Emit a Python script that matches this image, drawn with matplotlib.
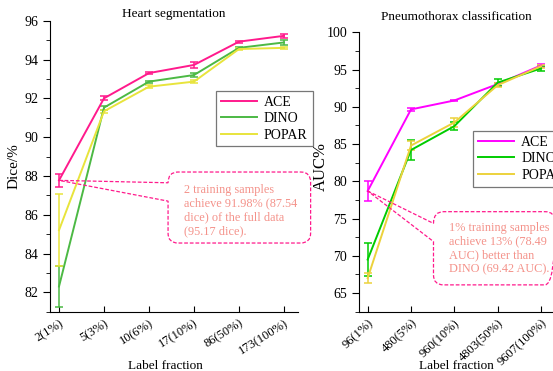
import numpy as np
import matplotlib.pyplot as plt
from matplotlib.path import Path
from matplotlib.patches import PathPatch
from matplotlib.lines import Line2D
from matplotlib.ticker import MultipleLocator

plt.rcParams['font.family'] = ['Liberation Serif', 'DejaVu Serif']

# Heart segmentation (Dice %)
heart_labels = ['2(1%)', '5(3%)', '10(6%)', '17(10%)', '86(50%)', '173(100%)']
heart_ace = [87.77, 92.0, 93.3, 93.72, 94.92, 95.22]
heart_ace_err = [0.34, 0.1, 0.07, 0.15, 0.05, 0.12]
heart_dino = [82.3, 91.52, 92.86, 93.2, 94.6, 94.88]
heart_dino_err = [1.05, 0.1, 0.05, 0.08, 0.05, 0.12]
heart_popar = [85.2, 91.33, 92.6, 92.86, 94.54, 94.6]
heart_popar_err = [1.85, 0.08, 0.08, 0.08, 0.05, 0.07]

# Pneumothorax classification (AUC %)
pneumo_labels = ['96(1%)', '480(5%)', '960(10%)', '4803(50%)', '9607(100%)']
pneumo_ace = [78.7, 89.65, 90.85, 93.05, 95.55]
pneumo_ace_err = [1.4, 0.2, 0.1, 0.2, 0.2]
pneumo_dino = [69.5, 84.2, 87.4, 93.25, 95.15]
pneumo_dino_err = [2.2, 1.3, 0.5, 0.5, 0.3]
pneumo_popar = [67.0, 84.8, 87.9, 92.9, 95.45]
pneumo_popar_err = [0.7, 0.6, 0.6, 0.3, 0.2]

methods = ['ACE', 'DINO', 'POPAR']
left_colors = ['#ff1a8c', '#4cb944', '#e8e43c']
right_colors = ['#ff00ff', '#00cc00', '#ecd23c']
callout_color = '#ff1a8c'
text_color = '#f4928a'

fig = plt.figure(figsize=(5.53, 3.71), dpi=100)
W, H = 553, 371
ax1 = fig.add_axes([50 / W, (H - 311.7) / H, 247.5 / W, 291 / H])
ax2 = fig.add_axes([359 / W, (H - 311.7) / H, 195 / W, 279.4 / H])


def draw_panel(ax, labels, series, errs, colors, rot):
    x = np.arange(len(labels))
    for name, y, e, c in zip(methods, series, errs, colors):
        ax.errorbar(x, y, yerr=e, color=c, lw=1.4, elinewidth=1.1,
                    capsize=3, capthick=1.1)
    ax.set_xticks(x)
    ax.set_xticklabels(labels, rotation=rot, ha='right', rotation_mode='anchor')
    ax.spines['top'].set_visible(False)
    ax.spines['right'].set_visible(False)
    ax.tick_params(axis='x', direction='in', length=4, labelsize=9, pad=4)
    ax.tick_params(axis='y', which='major', direction='out', length=5, labelsize=10)
    ax.tick_params(axis='y', which='minor', direction='out', length=3)
    ax.set_xlabel('Label fraction', fontsize=9.5)
    handles = [Line2D([], [], color=c, lw=1.4) for c in colors]
    return handles


h1 = draw_panel(ax1, heart_labels, [heart_ace, heart_dino, heart_popar],
                [heart_ace_err, heart_dino_err, heart_popar_err], left_colors, 32)
ax1.set_xlim(-0.2, 5.3)
ax1.set_ylim(81, 96)
ax1.yaxis.set_major_locator(MultipleLocator(2))
ax1.yaxis.set_minor_locator(MultipleLocator(1))
ax1.set_title('Heart segmentation', fontsize=9.5, pad=3)
ax1.set_ylabel('Dice/%', fontsize=11)
ax1.yaxis.set_label_coords(-0.121, 0.5)
ax1.xaxis.set_label_coords(0.465, -0.165)

h2 = draw_panel(ax2, pneumo_labels, [pneumo_ace, pneumo_dino, pneumo_popar],
                [pneumo_ace_err, pneumo_dino_err, pneumo_popar_err], right_colors, 43)
ax2.set_xlim(-0.2, 4.3)
ax2.set_ylim(62.5, 100)
ax2.yaxis.set_major_locator(MultipleLocator(5))
ax2.yaxis.set_minor_locator(MultipleLocator(2.5))
ax2.set_title('Pneumothorax classification', fontsize=9.5, pad=9)
ax2.set_ylabel('AUC%', fontsize=12)
ax2.yaxis.set_label_coords(-0.154, 0.52)
ax2.xaxis.set_label_coords(0.5, -0.172)

for ax, hs, anchor in [(ax1, h1, (0.671, 0.759)), (ax2, h2, (0.586, 0.647))]:
    leg = ax.legend(hs, methods, loc='upper left', bbox_to_anchor=anchor,
                    borderaxespad=0, fontsize=10, fancybox=False,
                    handlelength=2.6, labelspacing=0.25, handletextpad=0.5,
                    borderpad=0.35)
    leg.get_frame().set_edgecolor('#555555')
    leg.get_frame().set_linewidth(0.9)


def callout(ax, tip, box, att, r=10):
    # dashed rounded box with a pointer to a data point (built in pixels)
    tx, ty = ax.transData.transform(tip)
    x0, y0 = ax.transAxes.transform((box[0], box[1]))
    x1, y1 = ax.transAxes.transform((box[2], box[3]))
    ya = ax.transAxes.transform((0, att[0]))[1]
    yb = ax.transAxes.transform((0, att[1]))[1]
    verts = [(tx, ty), (x0, ya), (x0, y1), (x0 + r, y1),
             (x1 - r, y1), (x1, y1), (x1, y1 - r),
             (x1, y0 + r), (x1, y0), (x1 - r, y0),
             (x0 + r, y0), (x0, y0), (x0, y0 + r),
             (x0, yb), (tx, ty)]
    codes = [Path.MOVETO, Path.LINETO, Path.CURVE3, Path.CURVE3,
             Path.LINETO, Path.CURVE3, Path.CURVE3,
             Path.LINETO, Path.CURVE3, Path.CURVE3,
             Path.LINETO, Path.CURVE3, Path.CURVE3,
             Path.LINETO, Path.LINETO]
    verts = fig.transFigure.inverted().transform(verts)
    patch = PathPatch(Path(verts, codes), transform=fig.transFigure,
                      fill=False, edgecolor=callout_color, lw=0.9,
                      linestyle=(0, (3, 1.5)), clip_on=False)
    fig.add_artist(patch)


callout(ax1, (0, heart_ace[0]), (0.477, 0.236, 1.053, 0.480), (0.443, 0.380))
ax1.text(0.543, 0.44, '2 training samples\nachieve 91.98% (87.54\ndice) of the full data\n(95.17 dice).',
         transform=ax1.transAxes, ha='left', va='top', fontsize=8.8,
         color=text_color, linespacing=1.2)

callout(ax2, (0, pneumo_ace[0]), (0.382, 0.096, 1.005, 0.358), (0.316, 0.251))
ax2.text(0.462, 0.322, '1% training samples\nachieve 13% (78.49\nAUC) better than\nDINO (69.42 AUC).',
         transform=ax2.transAxes, ha='left', va='top', fontsize=8.8,
         color=text_color, linespacing=1.2)

fig.savefig('out.png', dpi=100)
